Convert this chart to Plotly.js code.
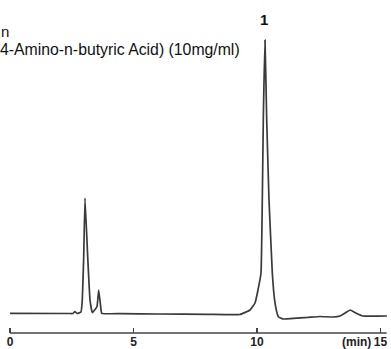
<!DOCTYPE html>
<html>
<head>
<meta charset="utf-8">
<script src="https://cdn.plot.ly/plotly-3.0.1.min.js"></script>
<style>html,body{margin:0;padding:0;background:#fff;}#chart{width:391px;height:349px;}</style>
</head>
<body>
<div id="chart"></div>
<script>
// Retention time (min) and detector signal (arbitrary units)
var timeMin = [0, 2.4, 2.55, 2.63, 2.72, 2.874, 2.927, 2.984, 3.036, 3.146, 3.239, 3.332, 3.522, 3.591, 3.672, 3.713, 4.5, 6, 8, 9.31, 9.72, 9.92, 10.04, 10.162, 10.215, 10.255, 10.324, 10.393, 10.486, 10.62, 10.67, 10.73, 10.8, 10.87, 11.05, 12.02, 12.55, 13.08, 13.36, 13.6, 13.77, 14.0, 14.29, 15.26];
var signal  = [0.7, 0.5, 0.5, 2.5, 0.5, 2, 14, 57, 116, 57, 14, 1.3, 7.3, 24, 7.3, 0.7, 0.3, 0, -0.3, -0.5, 4, 11, 24, 41, 114, 194, 274, 194, 114, 41, 24, 11, 2, -3, -5, -3.5, -2.5, -3, -2, 1.5, 4, 1, -2, -2];
var tickVals = [0, 5, 10, 15];
var tickText = ['0', '5', '10', '15'];
var peakLabel = '1';
var peakTime = 10.324;
var peakHeight = 274;
var headerLine1 = 'n';
var headerLine2 = '4-Amino-n-butyric Acid) (10mg/ml)';
var unitLabel = '(min)';

var trace = {
  x: timeMin, y: signal, type: 'scatter', mode: 'lines',
  line: {color: '#3a3a3a', width: 1.7, shape: 'spline', smoothing: 0.3},
  hoverinfo: 'skip'
};

var layout = {
  width: 391, height: 349,
  margin: {l: 0, r: 0, t: 0, b: 16, pad: 0},
  paper_bgcolor: '#fff', plot_bgcolor: '#fff',
  showlegend: false,
  xaxis: {
    range: [-10/24.7, 381/24.7],
    showgrid: false, zeroline: false, showline: false,
    ticks: 'inside', ticklen: 5, tickwidth: 1.5, tickcolor: '#444',
    tickvals: tickVals, ticktext: tickText,
    tickfont: {family: 'Liberation Sans, Arial, sans-serif', size: 12, color: '#222', weight: 'bold'},
    fixedrange: true
  },
  yaxis: {range: [-19, 314], visible: false, fixedrange: true},
  shapes: [{
    type: 'line', xref: 'x', yref: 'paper', x0: 0, x1: 15.25, y0: 0, y1: 0,
    line: {color: '#444', width: 1.5}
  }],
  annotations: [
    {xref: 'paper', yref: 'paper', x: 0, y: (333-31)/333, xanchor: 'left', yanchor: 'middle', showarrow: false,
     text: headerLine1, xshift: -1, font: {family: 'Liberation Sans, Arial, sans-serif', size: 15, color: '#111'}},
    {xref: 'paper', yref: 'paper', x: 0, y: (333-50)/333, xanchor: 'left', yanchor: 'middle', showarrow: false,
     text: headerLine2, xshift: -2, font: {family: 'Liberation Sans, Arial, sans-serif', size: 15.8, color: '#111'}},
    {xref: 'x', yref: 'y', x: peakTime, y: peakHeight, xanchor: 'center', yanchor: 'bottom', showarrow: false,
     text: peakLabel, yshift: 10, xshift: -1, font: {family: 'Liberation Sans, Arial, sans-serif', size: 15, color: '#111', weight: 'bold'}},
    {xref: 'x', yref: 'paper', x: 14.7, y: -0.027, xanchor: 'right', yanchor: 'middle', showarrow: false,
     text: unitLabel, font: {family: 'Liberation Sans, Arial, sans-serif', size: 12, color: '#222', weight: 'bold'}}
  ]
};

Plotly.newPlot('chart', [trace], layout, {displayModeBar: false, staticPlot: true});
</script>
</body>
</html>
